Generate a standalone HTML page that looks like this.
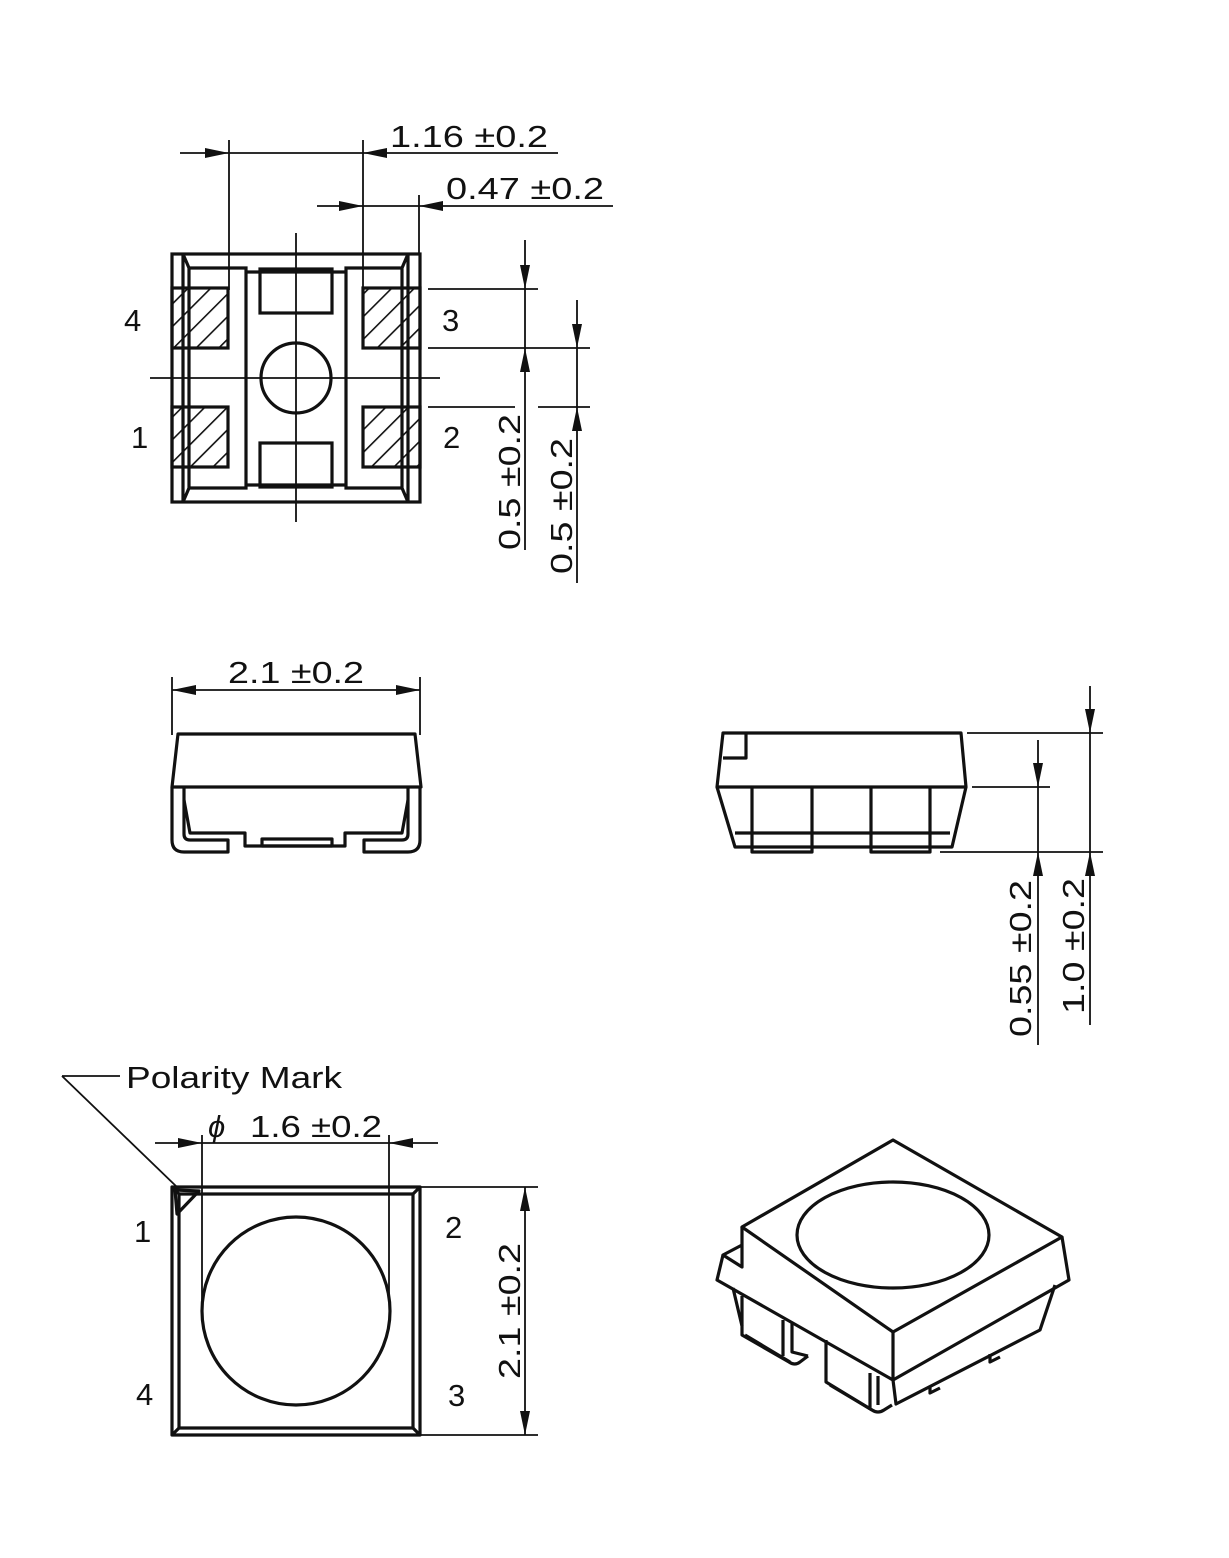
<!DOCTYPE html>
<html><head><meta charset="utf-8"><style>
html,body{margin:0;padding:0;background:#fff}
svg{display:block}
text{font-family:"Liberation Sans","DejaVu Sans",sans-serif;font-size:31px;fill:#111}
</style></head><body>
<svg width="1229" height="1558" viewBox="0 0 1229 1558" xmlns="http://www.w3.org/2000/svg">
<defs>
<pattern id="h" patternUnits="userSpaceOnUse" width="16" height="16" patternTransform="rotate(45)">
<line x1="0" y1="0" x2="0" y2="16" stroke="#111" stroke-width="3.2"/>
</pattern>
</defs>
<g fill="none" stroke="#111" stroke-width="3.2" stroke-linejoin="miter">
<rect x="172" y="254" width="248" height="248"/>
<path d="M183 254 L189 268 L189 488 L183 502 M183 254 L183 502"/>
<path d="M408 254 L402 268 L402 488 L408 502 M408 254 L408 502"/>
<path d="M189 268 H246 V488 H189"/>
<path d="M402 268 H346 V488 H402"/>
<path d="M246 272 H346 M246 485 H346"/>
<rect x="260" y="269" width="72" height="44"/>
<rect x="260" y="443" width="72" height="44"/>
<circle cx="296" cy="378" r="35"/>
<rect x="172" y="288" width="56" height="60" fill="url(#h)"/>
<rect x="172" y="407" width="56" height="60" fill="url(#h)"/>
<rect x="363" y="288" width="57" height="60" fill="url(#h)"/>
<rect x="363" y="407" width="57" height="60" fill="url(#h)"/>
</g>
<g fill="none" stroke="#111" stroke-width="1.8">
<path d="M150 378 H440 M296 233 V522 M284 378 H308"/>
<path d="M180 153 H558 M229 140 V290 M363 140 V290"/>
<path d="M317 206 H613 M419 195 V254"/>
<path d="M428 289 H538 M428 348 H590 M428 407 H515 M538 407 H590"/>
<path d="M525 240 V550 M577 300 V583"/>
<path d="M172 677 V735 M420 677 V735 M172 690 H420"/>
<path d="M967 733 H1103 M972 787 H1050 M940 852 H1103 M1038 740 V1045 M1090 686 V1025"/>
<path d="M62 1076 H120 M62 1076 L178 1188"/>
<path d="M155 1143 H438 M202 1135 V1300 M389 1135 V1300"/>
<path d="M420 1187 H538 M420 1435 H538 M525 1187 V1435"/>
</g>
<g fill="#111" stroke="none">
<polygon points="229,153 205,148 205,158"/>
<polygon points="363,153 387,148 387,158"/>
<polygon points="363,206 339,201 339,211"/>
<polygon points="419,206 443,201 443,211"/>
<polygon points="525,289 520,265 530,265"/>
<polygon points="525,348 520,372 530,372"/>
<polygon points="577,348 572,324 582,324"/>
<polygon points="577,407 572,431 582,431"/>
<polygon points="172,690 196,685 196,695"/>
<polygon points="420,690 396,685 396,695"/>
<polygon points="1038,787 1033,763 1043,763"/>
<polygon points="1038,852 1033,876 1043,876"/>
<polygon points="1090,733 1085,709 1095,709"/>
<polygon points="1090,852 1085,876 1095,876"/>
<polygon points="202,1143 178,1138 178,1148"/>
<polygon points="389,1143 413,1138 413,1148"/>
<polygon points="525,1187 520,1211 530,1211"/>
<polygon points="525,1435 520,1411 530,1411"/>
</g>
<text x="390" y="147" textLength="158" lengthAdjust="spacingAndGlyphs">1.16 ±0.2</text>
<text x="446" y="199" textLength="158" lengthAdjust="spacingAndGlyphs">0.47 ±0.2</text>
<text x="124" y="331">4</text>
<text x="442" y="331">3</text>
<text x="131" y="448">1</text>
<text x="443" y="448">2</text>
<text transform="translate(520,550) rotate(-90)" textLength="136" lengthAdjust="spacingAndGlyphs">0.5 ±0.2</text>
<text transform="translate(572,574) rotate(-90)" textLength="136" lengthAdjust="spacingAndGlyphs">0.5 ±0.2</text>
<text x="228" y="683" textLength="136" lengthAdjust="spacingAndGlyphs">2.1 ±0.2</text>
<text transform="translate(1031,1037) rotate(-90)" textLength="157" lengthAdjust="spacingAndGlyphs">0.55 ±0.2</text>
<text transform="translate(1084,1014) rotate(-90)" textLength="136" lengthAdjust="spacingAndGlyphs">1.0 ±0.2</text>
<text x="126" y="1088" textLength="216" lengthAdjust="spacingAndGlyphs">Polarity Mark</text>
<text x="208" y="1137" font-style="italic">ϕ</text>
<text x="250" y="1137" textLength="132" lengthAdjust="spacingAndGlyphs">1.6 ±0.2</text>
<text x="134" y="1242">1</text>
<text x="445" y="1238">2</text>
<text x="136" y="1405">4</text>
<text x="448" y="1406">3</text>
<text transform="translate(520,1379) rotate(-90)" textLength="136" lengthAdjust="spacingAndGlyphs">2.1 ±0.2</text>
<g fill="none" stroke="#111" stroke-width="3.2" stroke-linejoin="round">
<path d="M178 734 H415 L421 787 H172 Z"/>
<path d="M172 787 V840 Q172 852 184 852 H228 V840 H190 Q184 840 184 834 L184 787"/>
<path d="M420 787 V840 Q420 852 408 852 H364 V840 H402 Q408 840 408 834 L408 787"/>
<path d="M184 800 L190 833 H245 V846 H345 V833 H402 L408 800"/>
<rect x="262" y="839" width="70" height="7"/>
<path d="M723 733 H961 L966 787 H717 Z"/>
<path d="M723 758 H746 V733"/>
<path d="M717 787 L735 847 H952 L966 787"/>
<path d="M735 833 H950"/>
<path d="M752 787 V852 H812 V787 M871 787 V852 H930 V787"/>
<rect x="172" y="1187" width="248" height="248"/>
<rect x="179" y="1194" width="234" height="234"/>
<path d="M172 1187 L179 1194 M420 1187 L413 1194 M172 1435 L179 1428 M420 1435 L413 1428"/>
<path d="M175 1190 L199 1191 L177 1214 Z"/>
<circle cx="296" cy="1311" r="94"/>
<path d="M893 1140 L1062 1237 L893 1332 L742 1227 Z"/>
<path d="M742 1227 V1267 L723 1255 L742 1245"/>
<path d="M723 1255 L717 1280 L893 1380 L1069 1280 L1062 1237"/>
<path d="M893 1332 V1380"/>
<ellipse cx="893" cy="1235" rx="96" ry="53"/>
<path d="M733 1288 L742 1326 V1335 L789 1362 Q795 1366 800 1362 L808 1356"/>
<path d="M742 1296 V1326 M783 1320 V1356 M792 1322 V1352 L808 1356"/>
<path d="M826 1340 V1382 L872 1410 Q878 1414 884 1410 L892 1405 M870 1373 V1410 M878 1376 V1405"/>
<path d="M893 1380 L896 1404 L1040 1330 L1055 1285"/>
<path d="M930 1386 V1393 L940 1388 M990 1354 V1362 L1000 1357"/>
<path d="M745 1335 L790 1362 M830 1385 L872 1410"/>
</g>
</svg>
</body></html>
